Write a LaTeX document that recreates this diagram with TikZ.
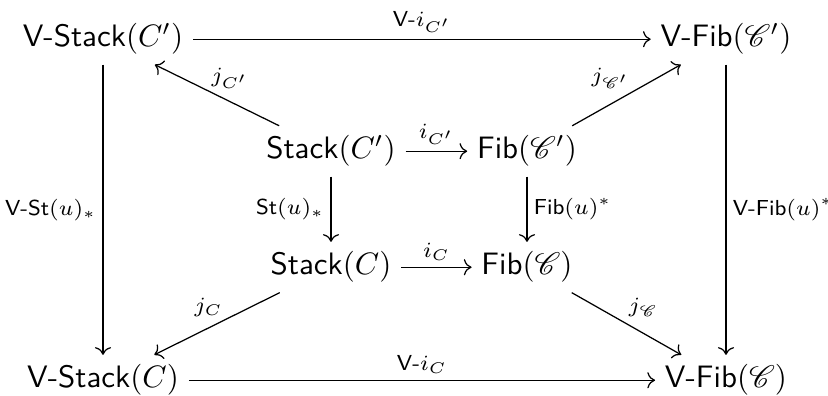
\documentclass[tikz,border=0pt]{standalone}
\usepackage{amsmath}
\usepackage{mathrsfs}
\usepackage{tikz}
\usetikzlibrary{cd,calc}
\tikzset{
  obj/.style={font=\sffamily,anchor=base,inner sep=3pt},
  ar/.style={-{cm to},draw=black,thin},
  lab/.style={font=\scriptsize\sffamily,inner sep=2pt},
}
\begin{document}
\begin{tikzpicture}[x=0.3226pt,y=-0.3226pt]
    \useasboundingbox (0,0) rectangle (828,396);
    % corners
    \node[obj](vstp) at (103,47){V-Stack$(C')$};
    \node[obj](vfibp) at (726,47){V-Fib$(\mathscr{C}')$};
    \node[obj](vst) at (103,388){V-Stack$(C)$};
    \node[obj](vfib) at (726,388){V-Fib$(\mathscr{C})$};
    % inner square
    \node[obj](stp) at (331,159){Stack$(C')$};
    \node[obj](fibp) at (527,159){Fib$(\mathscr{C}')$};
    \node[obj](st) at (331,275){Stack$(C)$};
    \node[obj](fib) at (527,275){Fib$(\mathscr{C})$};
    % outer arrows
    \draw[ar](vstp)--node[lab,above]{V-$i_{C'}$}(vfibp);
    \draw[ar](vst)--node[lab,above]{V-$i_{C}$}(vfib);
    \draw[ar](vstp)--node[lab,left]{V-St$(u)_*$}(vst);
    \draw[ar](vfibp)--node[lab,right]{V-Fib$(u)^*$}(vfib);
    % inner arrows
    \draw[ar](stp)--node[lab,above]{$i_{C'}$}(fibp);
    \draw[ar](st)--node[lab,above]{$i_{C}$}(fib);
    \draw[ar](stp)--node[lab,left]{St$(u)_*$}(st);
    \draw[ar](fibp)--node[lab,right]{Fib$(u)^*$}(fib);
    % diagonals
    \draw[ar](stp)--node[lab,above right,xshift=-4pt]{$j_{C'}$}(vstp);
    \draw[ar](fibp)--node[lab,above left,xshift=3pt]{$j_{\mathscr{C}'}$}(vfibp);
    \draw[ar](st)--node[lab,above left,xshift=4pt]{$j_{C}$}(vst);
    \draw[ar](fib)--node[lab,above right,xshift=-1.5pt]{$j_{\mathscr{C}}$}(vfib);
  \end{tikzpicture}
\end{document}
